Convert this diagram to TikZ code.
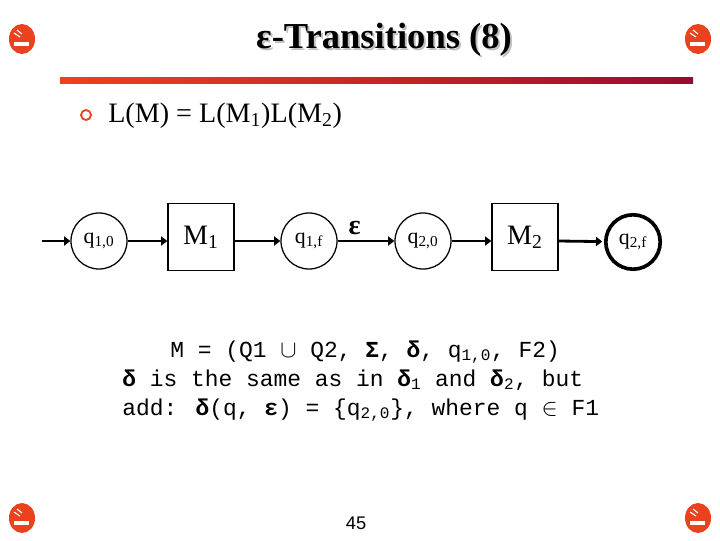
\documentclass[tikz,border=0pt]{standalone}
\usepackage{fontspec}
\setmainfont{Liberation Serif}
\newfontfamily\monofont{Liberation Mono}
\newfontfamily\pagefont{Liberation Sans}
\usetikzlibrary{arrows.meta, positioning}
\definecolor{iconred}{RGB}{234,66,30}
\definecolor{ruleleft}{RGB}{240,66,26}
\definecolor{ruleright}{RGB}{150,12,48}

\begin{document}
\begin{tikzpicture}[x=0.025cm, y=-0.025cm,
  statenode/.style={circle, draw, line width=0.9pt, minimum size=1.4cm, inner sep=0pt,
    font=\fontsize{15.5}{15.5}\selectfont},
  machine/.style={draw, line width=0.9pt, minimum width=1.65cm, minimum height=1.68cm,
    inner sep=0pt, font=\fontsize{20}{20}\selectfont},
  flow/.style={line width=2pt, -{Triangle[length=4.5pt,width=6.5pt]}},
  codeline/.style={anchor=base west, inner sep=0pt, font=\monofont\fontsize{16.3}{16.3}\selectfont}]
\useasboundingbox (0,0) rectangle (720,540);
% --- corner icons ---
\foreach \cx/\cy in {22/39, 698/39, 22/518, 698/518} {
  \fill[iconred] (\cx,\cy) ellipse (13 and 15);
  \draw[white, line width=0.8pt] (\cx-8,\cy-6) -- (\cx-2,\cy-2);
  \draw[white, line width=0.8pt] (\cx-5,\cy-9) -- (\cx,\cy-5);
  \fill[white] (\cx-8,\cy+3) rectangle (\cx+7,\cy+7);
}
% --- title and rule ---
\node[gray!50, anchor=base, font=\bfseries\fontsize{26}{26}\selectfont] at (386,50) {ε-Transitions (8)};
\node (title) [anchor=base, font=\bfseries\fontsize{26}{26}\selectfont] at (384,48) {ε-Transitions (8)};
\shade[left color=ruleleft, right color=ruleright] (60,77) rectangle (693,83);
% --- bullet ---
\draw[iconred, line width=1.3pt] (86,115) circle (5);
\node (lang) [anchor=base west, inner sep=0pt, font=\fontsize{20}{20}\selectfont] at (108,122)
  {L(M) = L(M\textsubscript{1})L(M\textsubscript{2})};
% --- the machine ---
\coordinate (start) at (42,241);
\node (q10) [statenode] at (99,241) {q\textsubscript{1,0}};
\node (M1) [machine] at (201,237) {M\textsubscript{1}};
\node (q1f) [statenode] at (309,241) {q\textsubscript{1,f}};
\node (q20) [statenode] at (423,241) {q\textsubscript{2,0}};
\node (M2) [machine] at (525,237) {M\textsubscript{2}};
\node (q2f) [statenode, line width=2.6pt, minimum size=1.36cm] at (633,242) {q\textsubscript{2,f}};
\draw[flow] (start) -- (q10);
\draw[flow] (q10) -- (q10 -| M1.west);
\draw[flow] (q10 -| M1.east) -- (q1f);
\draw[flow] (q1f) -- node[above, pos=0.3, font=\bfseries\fontsize{20}{20}\selectfont] {ε} (q20);
\draw[flow] (q20) -- (q20 -| M2.west);
\draw[flow, shorten >=1.2pt] (q20 -| M2.east) -- (q2f);
% --- definition of M ---
\node (def1) [codeline] at (170,357)
  {M = (Q1 $\cup$ Q2, \textbf{Σ}, \textbf{δ}, q\textsubscript{1,0}, F2)};
\node (def2) [codeline] at (122,386)
  {\textbf{δ} is the same as in \textbf{δ}\textsubscript{1} and \textbf{δ}\textsubscript{2}, but};
\node (def3) [codeline] at (122,415)
  {add: \textbf{δ}(q, \textbf{ε}) = \{q\textsubscript{2,0}\}, where q $\in$ F1};
% --- page number ---
\node (page) [anchor=base, font=\pagefont\fontsize{13}{13}\selectfont] at (356,529) {45};
\end{tikzpicture}
\end{document}
